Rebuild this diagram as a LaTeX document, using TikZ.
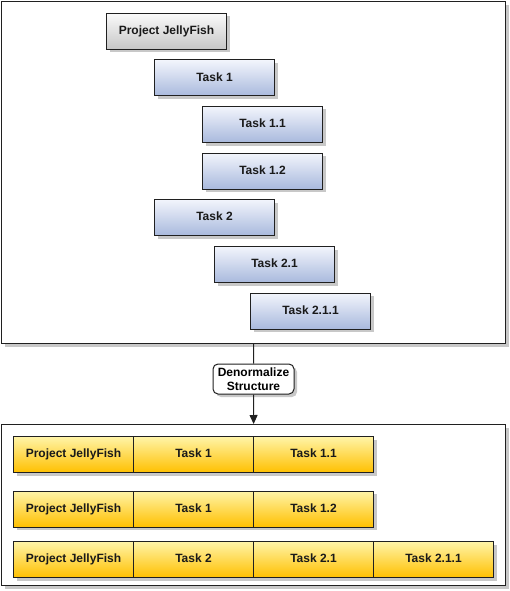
\documentclass[tikz,border=0pt]{standalone}
\usepackage{fontspec}
\setmainfont{Liberation Sans}
\usetikzlibrary{shadows,arrows.meta,positioning}
\definecolor{blueT}{HTML}{F2F5FC}
\definecolor{blueB}{HTML}{A9B9DD}
\definecolor{grayT}{HTML}{FAFAFA}
\definecolor{grayB}{HTML}{C6C6C6}
\definecolor{yelT}{HTML}{FFF4A8}
\definecolor{yelB}{HTML}{FFC000}
\definecolor{edge}{HTML}{202020}
\definecolor{shad}{HTML}{C8C8C8}
\tikzset{
  sh/.style={drop shadow={shadow xshift=3pt,shadow yshift=-3pt,fill=shad,opacity=1}},
  taskbox/.style={draw=edge,line width=1pt,minimum width=120pt,minimum height=36pt,
     inner sep=0pt,text height=8.6pt,text depth=2.4pt,anchor=north west,
     font=\fontsize{12}{14}\selectfont\bfseries,text=black!90,sh},
  bluebox/.style={taskbox,top color=blueT,bottom color=blueB},
  graybox/.style={taskbox,top color=grayT,bottom color=grayB},
  yelbox/.style={taskbox,top color=yelT,bottom color=yelB},
  frame/.style={draw=edge,line width=1.2pt,fill=white,inner sep=0pt,anchor=north west,sh},
  procbox/.style={draw=edge,line width=1pt,rounded corners=5pt,fill=white,align=center,
     minimum width=81pt,minimum height=30pt,inner sep=0pt,
     font=\fontsize{12}{13.5}\selectfont\bfseries,sh},
  conn/.style={draw=edge,line width=1pt}
}
\begin{document}
\begin{tikzpicture}[x=1pt,y=1pt]
\useasboundingbox (0,0) rectangle (510,-591);
% frames
\node[frame,minimum width=504pt,minimum height=342pt] (topframe) at (1,-1) {};
\node[frame,minimum width=504pt,minimum height=161pt] (botframe) at (1,-424) {};
% top hierarchy
\node[graybox] (pj) at (106,-13) {Project JellyFish};
\node[bluebox] (t1) at (154,-59.5) {Task 1};
\node[bluebox] (t11) at (202,-106) {Task 1.1};
\node[bluebox] (t12) at (202,-152.5) {Task 1.2};
\node[bluebox] (t2) at (154,-199) {Task 2};
\node[bluebox] (t21) at (214,-246) {Task 2.1};
\node[bluebox] (t211) at (250,-292.5) {Task 2.1.1};
% process
\node[procbox] (den) at (253.5,-379) {Denormalize\\Structure};
\draw[conn] (topframe.south) -- (den.north);
\draw[conn,-{Triangle[length=9pt,width=8pt]}] (den.south) -- (botframe.north);
% rows
\node[yelbox] (r1a) at (13,-436) {Project JellyFish};
\node[yelbox] (r1b) at (133,-436) {Task 1};
\node[yelbox] (r1c) at (253,-436) {Task 1.1};
\node[yelbox] (r2a) at (13,-490.5) {Project JellyFish};
\node[yelbox] (r2b) at (133,-490.5) {Task 1};
\node[yelbox] (r2c) at (253,-490.5) {Task 1.2};
\node[yelbox] (r3a) at (13,-541) {Project JellyFish};
\node[yelbox] (r3b) at (133,-541) {Task 2};
\node[yelbox] (r3c) at (253,-541) {Task 2.1};
\node[yelbox] (r3d) at (373,-541) {Task 2.1.1};
\end{tikzpicture}
\end{document}
